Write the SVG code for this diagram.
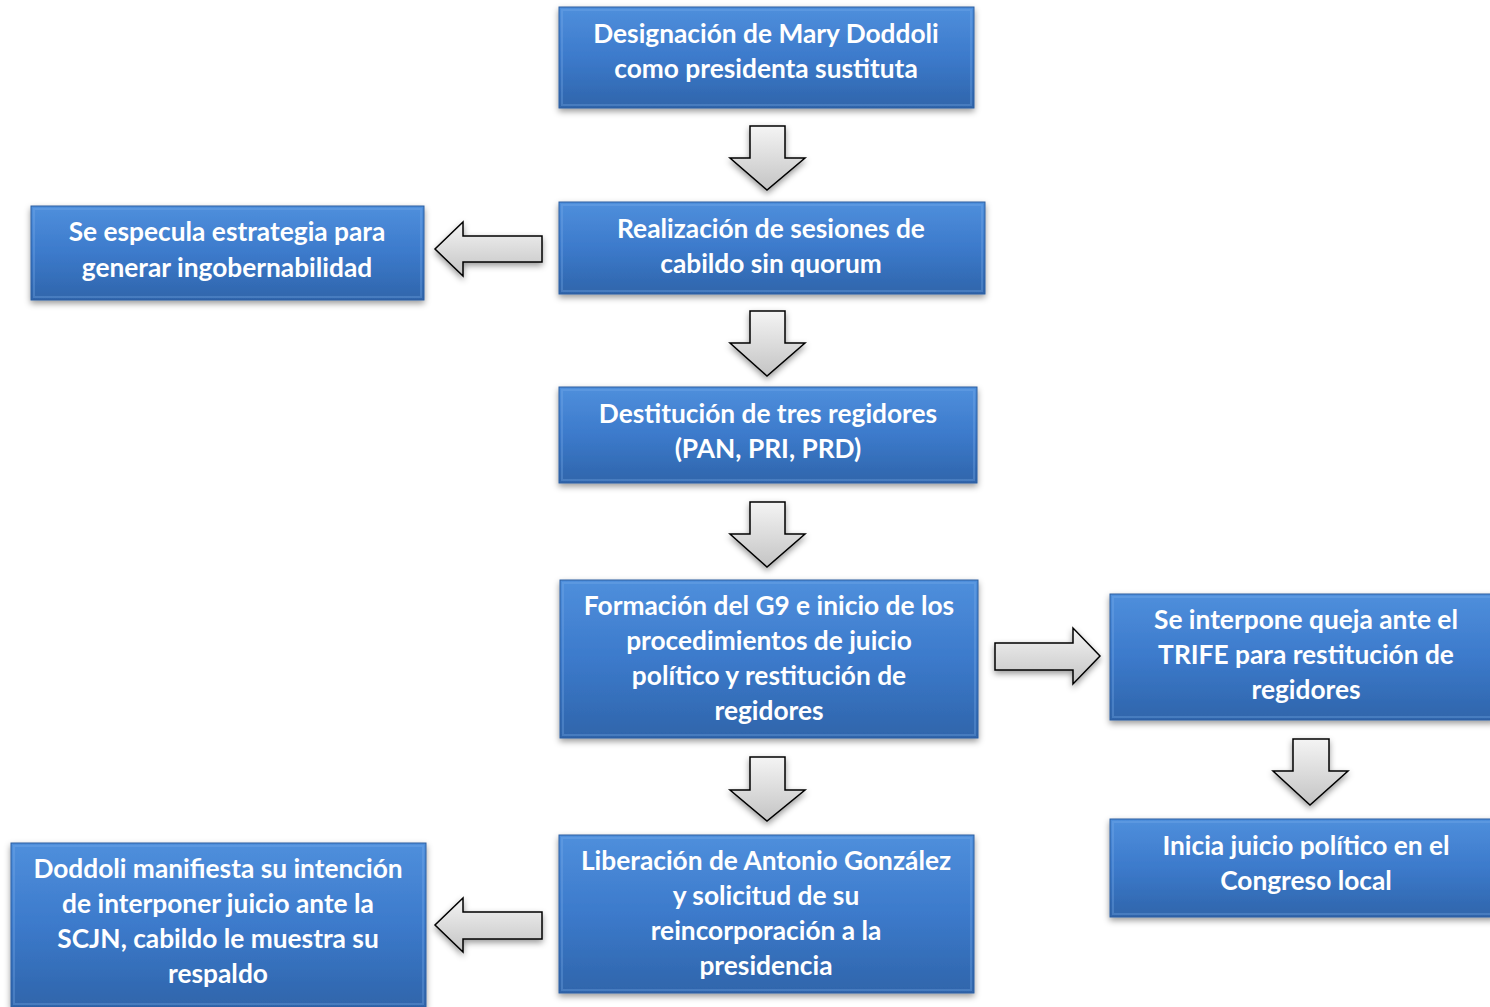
<svg xmlns="http://www.w3.org/2000/svg" width="1490" height="1007" viewBox="0 0 1490 1007">
<defs>
<linearGradient id="bg" x1="0" y1="0" x2="0" y2="1">
<stop offset="0" stop-color="#4f8fdc"/>
<stop offset="0.5" stop-color="#3c7acb"/>
<stop offset="1" stop-color="#2f65ab"/>
</linearGradient>
<linearGradient id="ag" x1="0" y1="0" x2="0" y2="1">
<stop offset="0" stop-color="#f4f4f4"/>
<stop offset="1" stop-color="#c4c4c4"/>
</linearGradient>
<filter id="sh" x="-10%" y="-10%" width="120%" height="130%">
<feDropShadow dx="0" dy="3" stdDeviation="3" flood-color="#000" flood-opacity="0.4"/>
</filter>
</defs>
<style>
.box{fill:url(#bg);stroke:#2d5f9f;stroke-width:1;filter:url(#sh)}
.hl{fill:none;stroke:#7fb0ec;stroke-width:2;opacity:0.3}
.t{font-family:Lato,"Open Sans","Liberation Sans",sans-serif;font-weight:bold;font-size:26.3px;fill:#fff;text-anchor:middle}
.arr{fill:url(#ag);stroke:#000;stroke-width:1.5;stroke-linejoin:miter;filter:url(#sh)}
</style>
<g id="connectors">
<path class="arr" d="M750 126 H785 V158 H805 L767 190 L730 158 H750 Z"/>
<path class="arr" d="M750 311 H785 V343 H805 L767 376 L730 343 H750 Z"/>
<path class="arr" d="M750 502 H785 V534 H805 L767 567 L730 534 H750 Z"/>
<path class="arr" d="M750 757 H785 V790 H805 L767 821 L730 790 H750 Z"/>
<path class="arr" d="M1293 739 H1329 V771 H1348 L1310 805 L1273 771 H1293 Z"/>
<path class="arr" d="M542 236 V262 H463 V276 L435 249 L463 222 V236 Z"/>
<path class="arr" d="M542 912 V939 H463 V952 L435 925 L463 898 V912 Z"/>
<path class="arr" d="M995 643 V670 H1073 V684 L1100 656 L1073 628 V643 Z"/>
</g>
<g id="n1"><rect class="box" x="559" y="7" width="415" height="101"/><rect class="hl" x="562" y="10" width="409" height="95"/>
<text class="t" x="766" y="43">Designación de Mary Doddoli</text><text class="t" x="766" y="78">como presidenta sustituta</text></g>
<g id="n2"><rect class="box" x="559" y="202" width="426" height="92"/><rect class="hl" x="562" y="205" width="420" height="86"/>
<text class="t" x="771" y="238">Realización de sesiones de</text><text class="t" x="771" y="273">cabildo sin quorum</text></g>
<g id="n3"><rect class="box" x="559" y="387" width="418" height="96"/><rect class="hl" x="562" y="390" width="412" height="90"/>
<text class="t" x="768" y="423">Destitución de tres regidores</text><text class="t" x="768" y="458">(PAN, PRI, PRD)</text></g>
<g id="n4"><rect class="box" x="560" y="580" width="418" height="158"/><rect class="hl" x="563" y="583" width="412" height="152"/>
<text class="t" x="769" y="615">Formación del G9 e inicio de los</text><text class="t" x="769" y="650">procedimientos de juicio</text><text class="t" x="769" y="685">político y restitución de</text><text class="t" x="769" y="720">regidores</text></g>
<g id="n5"><rect class="box" x="559" y="835" width="415" height="158"/><rect class="hl" x="562" y="838" width="409" height="152"/>
<text class="t" x="766" y="870">Liberación de Antonio González</text><text class="t" x="766" y="905">y solicitud de su</text><text class="t" x="766" y="940">reincorporación a la</text><text class="t" x="766" y="975">presidencia</text></g>
<g id="n6"><rect class="box" x="31" y="206" width="393" height="94"/><rect class="hl" x="34" y="209" width="387" height="88"/>
<text class="t" x="227" y="241">Se especula estrategia para</text><text class="t" x="227" y="277">generar ingobernabilidad</text></g>
<g id="n7"><rect class="box" x="11" y="843" width="415" height="164"/><rect class="hl" x="14" y="846" width="409" height="158"/>
<text class="t" x="218" y="878">Doddoli manifiesta su intención</text><text class="t" x="218" y="913">de interponer juicio ante la</text><text class="t" x="218" y="948">SCJN, cabildo le muestra su</text><text class="t" x="218" y="983">respaldo</text></g>
<g id="n8"><rect class="box" x="1110" y="594" width="385" height="126"/><rect class="hl" x="1113" y="597" width="380" height="120"/>
<text class="t" x="1306" y="629">Se interpone queja ante el</text><text class="t" x="1306" y="664">TRIFE para restitución de</text><text class="t" x="1306" y="699">regidores</text></g>
<g id="n9"><rect class="box" x="1110" y="819" width="385" height="98"/><rect class="hl" x="1113" y="822" width="380" height="92"/>
<text class="t" x="1306" y="855">Inicia juicio político en el</text><text class="t" x="1306" y="890">Congreso local</text></g>
</svg>
